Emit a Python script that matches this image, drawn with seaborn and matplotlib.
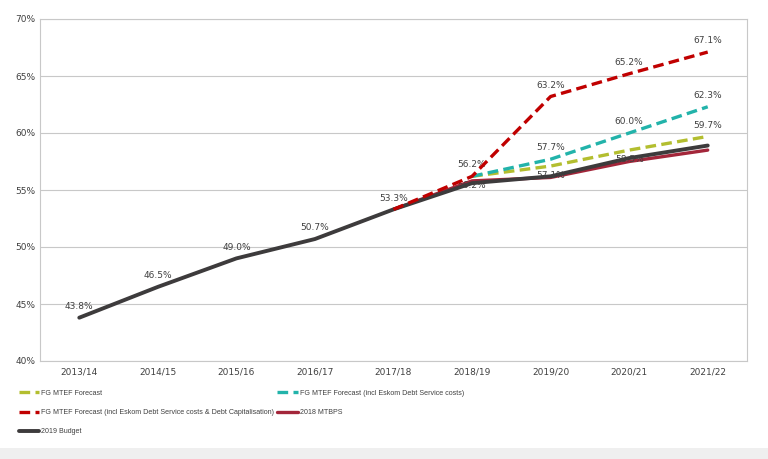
import matplotlib.pyplot as plt
import seaborn as sns
import pandas as pd
import numpy as np
from matplotlib.patches import Rectangle
from matplotlib import font_manager

sns.set_theme(style="white")
plt.rcParams['font.family'] = ['DejaVu Sans']

years = ["2013/14", "2014/15", "2015/16", "2016/17", "2017/18",
         "2018/19", "2019/20", "2020/21", "2021/22"]
nan = np.nan
fg_mtef = [nan, nan, nan, nan, nan, 56.2, 57.1, 58.5, 59.7]
fg_eskom = [nan, nan, nan, nan, nan, 56.2, 57.7, 60.0, 62.3]
fg_eskom_cap = [nan, nan, nan, nan, 53.3, 56.2, 63.2, 65.2, 67.1]
mtbps_2018 = [nan, nan, nan, nan, 53.3, 55.8, 56.1, 57.5, 58.5]
budget_2019 = [43.8, 46.5, 49.0, 50.7, 53.3, 55.6, 56.2, 57.8, 58.9]

series = [
    ("FG MTEF Forecast", fg_mtef, "#b3be2f", (3.2, 1.6), 2.4),
    ("FG MTEF Forecast (incl Eskom Debt Service costs)", fg_eskom, "#22b3aa", (3.2, 1.6), 2.4),
    ("FG MTEF Forecast (incl Eskom Debt Service costs & Debt Capitalisation)", fg_eskom_cap, "#c00000", (3.2, 1.6), 2.4),
    ("2018 MTBPS", mtbps_2018, "#a3263a", None, 2.4),
    ("2019 Budget", budget_2019, "#3d3b3c", None, 2.8),
]

fig = plt.figure(figsize=(7.68, 4.59), dpi=100)
fig.patches.append(Rectangle((0, 0), 1, 11 / 459, transform=fig.transFigure,
                             facecolor="#efefef", edgecolor="none", zorder=-1))
ax = fig.add_axes([40 / 768, 1 - 361 / 459, 707 / 768, 342 / 459])

x = np.arange(len(years))
for name, vals, color, dash, lw in series:
    df = pd.DataFrame({"x": x, "y": vals}).dropna()
    sns.lineplot(data=df, x="x", y="y", ax=ax, color=color, linewidth=lw,
                 label=name, zorder=3 if dash is None else 4)
    line = ax.lines[-1]
    if dash is not None:
        line.set_dashes(dash)
        line.set_dash_capstyle("butt")

# data labels
lab_kw = dict(fontsize=6.5, color="#404040", ha="center")
for i in range(5):
    ax.text(x[i], budget_2019[i] + 0.6, f"{budget_2019[i]:.1f}%", va="bottom", **lab_kw)
for i in range(6, 9):
    ax.text(x[i], fg_eskom_cap[i] + 0.6, f"{fg_eskom_cap[i]:.1f}%", va="bottom", **lab_kw)
for i in range(5, 9):
    ax.text(x[i], fg_eskom[i] + 0.6, f"{fg_eskom[i]:.1f}%", va="bottom", **lab_kw)
for i in range(5, 8):
    ax.text(x[i], fg_mtef[i] - 0.4, f"{fg_mtef[i]:.1f}%", va="top", **lab_kw)
ax.text(x[8], fg_mtef[8] + 0.6, f"{fg_mtef[8]:.1f}%", va="bottom", **lab_kw)

ax.set_xlim(-0.5, len(years) - 0.5)
ax.set_ylim(40, 70)
ax.set_yticks(range(40, 71, 5))
ax.set_yticklabels([f"{v}%" for v in range(40, 71, 5)])
ax.set_xticks(x)
ax.set_xticklabels(years)
ax.tick_params(axis="both", labelsize=6.5, labelcolor="#404040", length=0)
ax.tick_params(axis="x", pad=5)
ax.set_xlabel("")
ax.set_ylabel("")
ax.yaxis.grid(True, color="#c8c8c8", linewidth=0.8)
ax.set_axisbelow(True)
for s in ax.spines.values():
    s.set_color("#c8c8c8")
    s.set_linewidth(0.8)

handles, labels = ax.get_legend_handles_labels()
order = [0, 2, 4, 1, 3]
leg_font = font_manager.FontProperties(family="Liberation Sans", size=5.1)
ax.legend([handles[i] for i in order], [labels[i] for i in order],
          loc="upper left", bbox_to_anchor=(-0.039, -0.066),
          ncol=2, frameon=False, prop=leg_font, labelcolor="#404040",
          handlelength=2.9, handletextpad=0.3, columnspacing=0.4,
          labelspacing=1.7)

fig.savefig("out.png", dpi=100)
